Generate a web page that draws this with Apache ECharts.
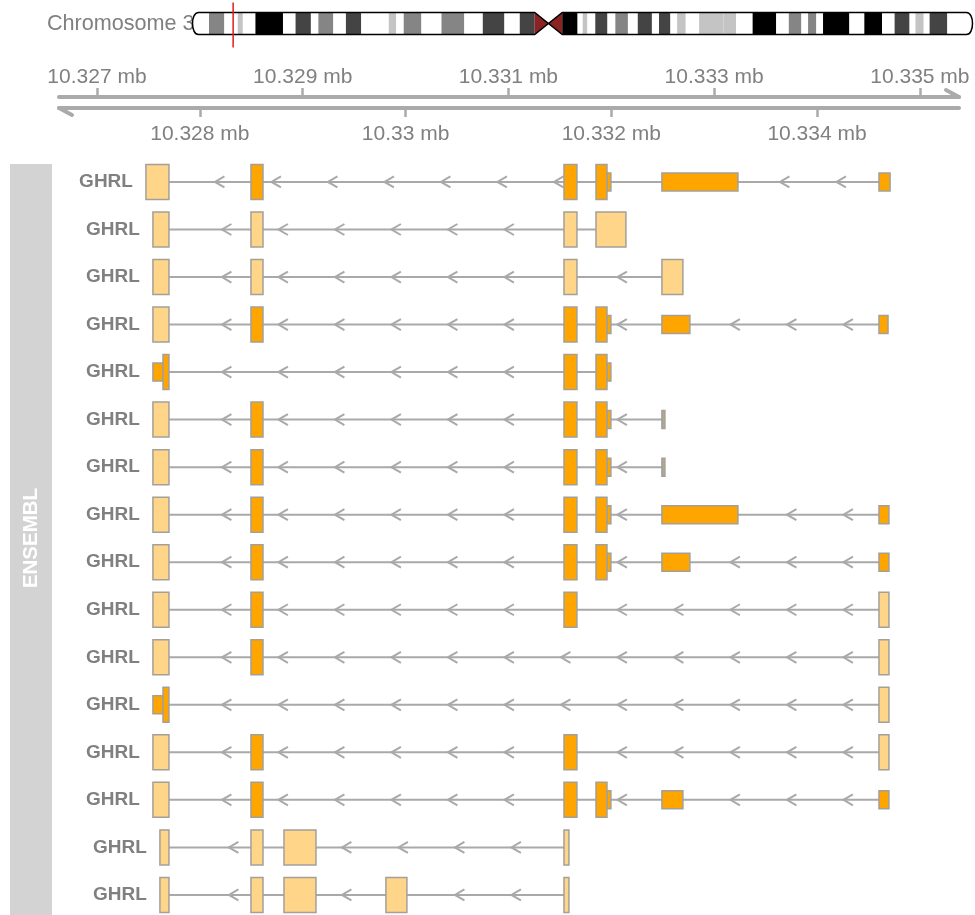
<!DOCTYPE html>
<html><head><meta charset="utf-8">
<script src="https://cdn.jsdelivr.net/npm/echarts@6/dist/echarts.min.js"></script>
<style>html,body{margin:0;padding:0;background:#fff}#chart{width:975px;height:915px}</style>
</head><body><div id="chart"></div>
<script>
// ---------------- Ideogram: chromosome 3 (positions in Mb) ----------------
const chromosomeLabel = 'Chromosome 3';
const chromLengthMb = 198.3;
const bandStartMb = [0,4.2,8.1,11.5,12.8,16.0,23.0,26.2,30.1,32.0,35.8,39.0,42.9,49.9,51.8,53.7,58.2,63.3,69.1,73.8,79.3,83.2,87.0,90.5,94.0,97.9,99.2,100.4,102.4,105.5,107.5,110.7,113.2,116.8,118.6,121.5,123.2,125.4,128.8,135.0,138.2,142.4,148.4,151.6,154.8,156.5,158.6,160.3,167.0,170.8,175.3,178.5,182.3,183.8,185.9,187.4,191.9];
const bandEndMb   = [4.2,8.1,11.5,12.8,16.0,23.0,26.2,30.1,32.0,35.8,39.0,42.9,49.9,51.8,53.7,58.2,63.3,69.1,73.8,79.3,83.2,87.0,90.5,94.0,97.9,99.2,100.4,102.4,105.5,107.5,110.7,113.2,116.8,118.6,121.5,123.2,125.4,128.8,135.0,138.2,142.4,148.4,151.6,154.8,156.5,158.6,160.3,167.0,170.8,175.3,178.5,182.3,183.8,185.9,187.4,191.9,198.3];
const bandStain = ['gneg','gpos50','gneg','gpos25','gneg','gpos100','gneg','gpos75','gneg','gpos50','gneg','gpos75','gneg','gpos25','gneg','gpos50','gneg','gpos50','gneg','gpos75','gneg','gpos75','acen','acen','gpos100','gneg','gpos25','gneg','gpos75','gneg','gpos50','gneg','gpos75','gneg','gpos75','gneg','gpos25','gneg','gpos25','gpos25','gneg','gpos100','gneg','gpos50','gneg','gpos50','gneg','gpos100','gneg','gpos100','gneg','gpos75','gneg','gpos25','gneg','gpos75','gneg'];
const highlightMb = 10.331;

// ---------------- Genome axis (bp) ----------------
const axisMin = 10326631;
const axisMax = 10335380;
const upperTicks = [10327000, 10329000, 10331000, 10333000, 10335000];
const lowerTicks = [10328000, 10330000, 10332000, 10334000];

// ---------------- Transcripts: [start, end, feature] ----------------
const trackTitle = 'ENSEMBL';
const geneSymbol = 'GHRL';
const tx01 = [[10327476,10327700,'nc'],[10328497,10328614,'cds'],[10331540,10331666,'cds'],[10331851,10331958,'cds'],[10331958,10331996,'utr'],[10332492,10333231,'utr'],[10334602,10334710,'utr']];
const tx02 = [[10327544,10327700,'nc'],[10328497,10328614,'nc'],[10331540,10331666,'nc'],[10331851,10332142,'nc']];
const tx03 = [[10327544,10327700,'nc'],[10328497,10328614,'nc'],[10331540,10331666,'nc'],[10332492,10332696,'nc']];
const tx04 = [[10327544,10327700,'nc'],[10328497,10328614,'cds'],[10331540,10331666,'cds'],[10331851,10331958,'cds'],[10331958,10331996,'utr'],[10332492,10332764,'utr'],[10334602,10334690,'utr']];
const tx05 = [[10327544,10327642,'utr'],[10327642,10327700,'cds'],[10331540,10331666,'cds'],[10331851,10331958,'cds'],[10331958,10331996,'utr']];
const tx06 = [[10327544,10327700,'nc'],[10328497,10328614,'cds'],[10331540,10331666,'cds'],[10331851,10331958,'cds'],[10331958,10331996,'utr'],[10332492,10332521,'misc']];
const tx07 = [[10327544,10327700,'nc'],[10328497,10328614,'cds'],[10331540,10331666,'cds'],[10331851,10331958,'cds'],[10331958,10331996,'utr'],[10332492,10332521,'misc']];
const tx08 = [[10327544,10327700,'nc'],[10328497,10328614,'cds'],[10331540,10331666,'cds'],[10331851,10331958,'cds'],[10331958,10331996,'utr'],[10332492,10333231,'utr'],[10334602,10334699,'utr']];
const tx09 = [[10327544,10327700,'nc'],[10328497,10328614,'cds'],[10331540,10331666,'cds'],[10331851,10331958,'cds'],[10331958,10331996,'utr'],[10332492,10332764,'utr'],[10334602,10334699,'utr']];
const tx10 = [[10327544,10327700,'nc'],[10328497,10328614,'cds'],[10331540,10331666,'cds'],[10334602,10334699,'nc']];
const tx11 = [[10327544,10327700,'nc'],[10328497,10328614,'cds'],[10334602,10334699,'nc']];
const tx12 = [[10327544,10327642,'utr'],[10327642,10327700,'cds'],[10334602,10334699,'nc']];
const tx13 = [[10327544,10327700,'nc'],[10328497,10328614,'cds'],[10331540,10331666,'cds'],[10334602,10334699,'nc']];
const tx14 = [[10327544,10327700,'nc'],[10328497,10328614,'cds'],[10331540,10331666,'cds'],[10331851,10331958,'cds'],[10331958,10331996,'utr'],[10332492,10332696,'utr'],[10334602,10334699,'utr']];
const tx15 = [[10327612,10327700,'nc'],[10328497,10328614,'nc'],[10328818,10329129,'nc'],[10331540,10331588,'nc']];
const tx16 = [[10327612,10327700,'nc'],[10328497,10328614,'nc'],[10328818,10329129,'nc'],[10329809,10330013,'nc'],[10331540,10331588,'nc']];
const transcripts = [tx01,tx02,tx03,tx04,tx05,tx06,tx07,tx08,tx09,tx10,tx11,tx12,tx13,tx14,tx15,tx16];

// ---------------- styles ----------------
const FONT = '"Liberation Sans", Arial, Helvetica, sans-serif';
const stainColor = {gneg:'#ffffff', gpos25:'#c4c4c4', gpos50:'#858585', gpos75:'#444444', gpos100:'#000000', acen:'#8b2323'};
const featureFill = {cds:'#ffa500', utr:'#ffa500', nc:'#ffd58a', misc:'#b5a78f'};
const featureThick = {cds:true, utr:false, nc:true, misc:false};
const lineCol = '#a9a9a9';
const exonBorder = '#a3a09a';
const axisCol = '#aaaaaa';

const chart = echarts.init(document.getElementById('chart'), null, {renderer:'canvas'});

const acenIdx = bandStain.map((s,i)=>s==='acen'?i:-1).filter(i=>i>=0);
const cenStart = bandStartMb[acenIdx[0]], cenMid = bandEndMb[acenIdx[0]], cenEnd = bandEndMb[acenIdx[acenIdx.length-1]];

function renderBand(params, api) {
  const s = api.value(0), e = api.value(1), k = api.value(2);
  const stain = bandStain[k];
  const pS = api.coord([s, 1]), pE = api.coord([e, 0]);
  const top = pS[1], bot = pE[1], mid = (top+bot)/2;
  if (stain === 'acen') {
    const first = k === acenIdx[0];
    const pts = first ? [[pS[0],top],[pS[0],bot],[pE[0],mid]] : [[pE[0],top],[pE[0],bot],[pS[0],mid]];
    return {type:'polygon', shape:{points:pts}, style:{fill:stainColor.acen}};
  }
  return {type:'rect', shape:{x:pS[0], y:top, width:pE[0]-pS[0], height:bot-top}, style:{fill:stainColor[stain]}};
}

function chromPath(api) {
  const x0 = api.coord([0,1])[0], x1 = api.coord([chromLengthMb,0])[0];
  const T = api.coord([0,1])[1], B = api.coord([0,0])[1], M = (T+B)/2;
  const cs = api.coord([cenStart,0])[0], cm = api.coord([cenMid,0])[0], ce = api.coord([cenEnd,0])[0];
  const rx = 6, k = rx*4/3;
  return `M${x0+rx} ${T} L${cs} ${T} L${cm} ${M} L${ce} ${T} L${x1-rx} ${T} C${x1-rx+k} ${T} ${x1-rx+k} ${B} ${x1-rx} ${B} L${ce} ${B} L${cm} ${M} L${cs} ${B} L${x0+rx} ${B} C${x0+rx-k} ${B} ${x0+rx-k} ${T} ${x0+rx} ${T} Z`;
}

function renderTranscript(params, api) {
  const row = api.value(0);
  const exons = transcripts[row];
  const yc = api.coord([axisMin, row])[1];
  const px = exons.map(e => [api.coord([e[0], row])[0], api.coord([e[1], row])[0], e[2]]);
  const x0 = Math.min(...px.map(a=>a[0])), x1 = Math.max(...px.map(a=>a[1]));
  const kids = [];
  kids.push({type:'line', shape:{x1:x0, y1:yc, x2:x1, y2:yc}, style:{stroke:lineCol, lineWidth:2}});
  const sorted = px.slice().sort((a,b)=>a[0]-b[0]);
  const blocks = [];
  sorted.forEach(b => {
    if (blocks.length && b[0] <= blocks[blocks.length-1][1] + 0.5) blocks[blocks.length-1][1] = Math.max(blocks[blocks.length-1][1], b[1]);
    else blocks.push([b[0], b[1]]);
  });
  const introns = [];
  for (let i=1;i<blocks.length;i++) introns.push([blocks[i-1][1], blocks[i][0]]);
  for (let t = x0 + 69; t < x1; t += 56.5) {
    if (introns.some(iv => t >= iv[0]+2 && t+9 <= iv[1])) {
      kids.push({type:'polyline', shape:{points:[[t+9.5,yc-5.5],[t,yc],[t+9.5,yc+5.5]]}, style:{stroke:lineCol, lineWidth:2, fill:null}});
    }
  }
  const order = px.slice().sort((a,b)=> (featureThick[a[2]]?1:0) - (featureThick[b[2]]?1:0));
  order.forEach(e => {
    const h = featureThick[e[2]] ? 35 : 18;
    kids.push({type:'rect', shape:{x:e[0], y:yc-h/2, width:Math.max(e[1]-e[0],1), height:h},
      style:{fill:featureFill[e[2]], stroke:exonBorder, lineWidth:1.5}});
  });
  kids.push({type:'text', style:{text:geneSymbol, x:x0-13, y:yc, align:'right', verticalAlign:'middle',
    font:'bold 19px '+FONT, fill:'#808080'}});
  return {type:'group', children:kids};
}

function mbLabel(v){ return (v/1e6).toString() + ' mb'; }

const option = {
  animation:false,
  backgroundColor:'#ffffff',
  grid:[
    {left:192.5, top:12.5, width:780, height:22, containLabel:false, outerBoundsMode:'none'},
    {left:59, top:97, width:900, height:11, containLabel:false, outerBoundsMode:'none'},
    {left:59, top:158.2, width:900, height:760.5, containLabel:false, outerBoundsMode:'none'}
  ],
  xAxis:[
    {gridIndex:0, type:'value', min:0, max:chromLengthMb, show:false},
    {gridIndex:1, type:'value', min:axisMin, max:axisMax, position:'top',
      axisLine:{show:true, onZero:false, lineStyle:{color:axisCol, width:4}},
      axisTick:{show:true, length:9, customValues:upperTicks, lineStyle:{color:axisCol, width:2.5}},
      axisLabel:{show:true, customValues:upperTicks, formatter:mbLabel, margin:9, color:'#808080', fontSize:21, fontFamily:FONT},
      splitLine:{show:false}},
    {gridIndex:1, type:'value', min:axisMin, max:axisMax, position:'bottom',
      axisLine:{show:true, onZero:false, lineStyle:{color:axisCol, width:4}},
      axisTick:{show:true, length:9, customValues:lowerTicks, lineStyle:{color:axisCol, width:2.5}},
      axisLabel:{show:true, customValues:lowerTicks, formatter:mbLabel, margin:16, color:'#808080', fontSize:21, fontFamily:FONT},
      splitLine:{show:false}},
    {gridIndex:2, type:'value', min:axisMin, max:axisMax, show:false}
  ],
  yAxis:[
    {gridIndex:0, type:'value', min:0, max:1, show:false},
    {gridIndex:1, type:'value', min:0, max:1, show:false},
    {gridIndex:2, type:'value', min:-0.5, max:15.5, inverse:true, show:false}
  ],
  graphic:[
    {type:'text', z:0, style:{text:chromosomeLabel, x:47, y:24, font:'21.6px '+FONT, fill:'#808080', align:'left', verticalAlign:'middle', textAlign:'left', textVerticalAlign:'middle'}},
    {type:'rect', z:0, shape:{x:10, y:164, width:42, height:760}, style:{fill:'#d3d3d3'}},
    {type:'text', z:1, x:31, y:538, rotation:Math.PI/2, style:{text:trackTitle, x:0, y:0, font:'bold 20.5px '+FONT, fill:'#ffffff', align:'center', verticalAlign:'middle', textAlign:'center', textVerticalAlign:'middle'}}
  ],
  series:[
    {type:'custom', xAxisIndex:0, yAxisIndex:0, z:3, data:[[0, chromLengthMb]],
      renderItem:(p,api)=>({type:'path', shape:{pathData:chromPath(api)}, style:{fill:'#ffffff', stroke:null}})},
    {type:'custom', xAxisIndex:0, yAxisIndex:0, z:4,
      data:bandStartMb.map((s,i)=>[s, bandEndMb[i], i]), renderItem:renderBand},
    {type:'custom', xAxisIndex:0, yAxisIndex:0, z:5, data:[[0, chromLengthMb]],
      renderItem:(p,api)=>({type:'path', shape:{pathData:chromPath(api)}, style:{fill:null, stroke:'#000000', lineWidth:1.5}})},
    {type:'custom', xAxisIndex:0, yAxisIndex:0, z:6, data:[[highlightMb]],
      renderItem:(p,api)=>{ const a=api.coord([api.value(0),1]), b=api.coord([api.value(0),0]);
        return {type:'line', shape:{x1:a[0], y1:a[1]-10, x2:a[0], y2:b[1]+13}, style:{stroke:'#e31a1c', lineWidth:1.5}}; }},
    {type:'custom', xAxisIndex:1, yAxisIndex:1, z:3, data:[[axisMin, axisMax]],
      renderItem:(p,api)=>{ const r=api.coord([api.value(1),1]), l=api.coord([api.value(0),0]);
        return {type:'group', children:[
          {type:'line', shape:{x1:r[0], y1:r[1], x2:r[0]-13, y2:r[1]-7}, style:{stroke:axisCol, lineWidth:4, lineCap:'round'}},
          {type:'line', shape:{x1:l[0], y1:l[1], x2:l[0]+13, y2:l[1]+7}, style:{stroke:axisCol, lineWidth:4, lineCap:'round'}}
        ]}; }},
    {type:'custom', xAxisIndex:3, yAxisIndex:2, z:3, clip:false,
      data:transcripts.map((t,i)=>[i, Math.min(...t.map(e=>e[0])), Math.max(...t.map(e=>e[1]))]),
      renderItem:renderTranscript}
  ]
};
chart.setOption(option);
</script></body></html>
